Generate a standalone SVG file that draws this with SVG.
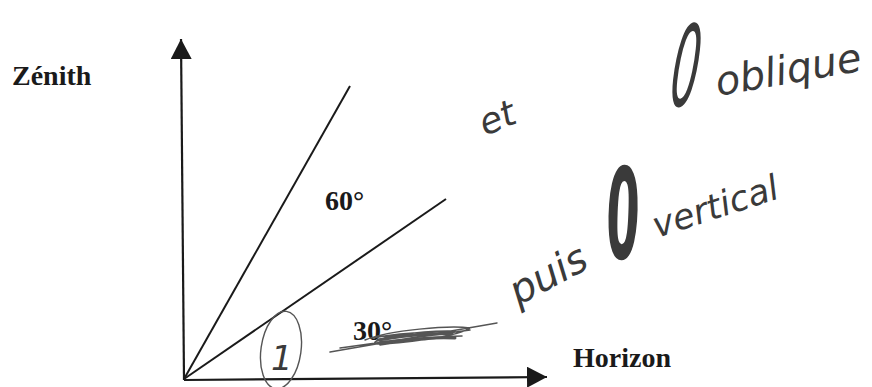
<svg xmlns="http://www.w3.org/2000/svg" width="872" height="387" viewBox="0 0 872 387">
<style>
.lbl{font-family:"Liberation Serif","Times New Roman",serif;font-weight:bold;font-size:28px;fill:#1a1a1a}
.hand{font-family:"DejaVu Sans","Liberation Sans",sans-serif;font-style:italic;fill:#3a3a3a}
.ax{stroke:#1a1a1a;stroke-width:2.2;fill:none}
.ray{stroke:#1a1a1a;stroke-width:2;fill:none}
.pen{stroke:#555;fill:none;stroke-linecap:round}
</style>
<defs>
<marker id="arr" markerWidth="20" markerHeight="21" refX="20" refY="10.5" orient="auto" markerUnits="userSpaceOnUse">
<path d="M0,0 L20,10.5 L0,21 Z" fill="#1a1a1a"/>
</marker>
</defs>
<rect width="872" height="387" fill="#fff"/>
<g id="connectors">
<line class="ax" x1="184" y1="380" x2="181" y2="39" marker-end="url(#arr)"/>
<line class="ax" x1="184" y1="380" x2="547" y2="377" marker-end="url(#arr)"/>
<line class="ray" x1="184" y1="379" x2="350" y2="86"/>
<line class="ray" x1="184" y1="379" x2="446" y2="199"/>
</g>
<g id="zenith"><text class="lbl" x="12" y="85" font-size="29">Zénith</text></g>
<g id="angle60"><text class="lbl" x="325" y="210">60°</text></g>
<g id="angle30"><text class="lbl" x="353" y="340">30°</text></g>
<g id="horizon"><text class="lbl" x="573" y="367">Horizon</text></g>
<g id="scribble">
<path class="pen" stroke-width="1.5" d="M330,352 L497,323 M340,348 L470,330 M365,340 C390,330 450,325 470,328 C460,336 400,344 375,344 C370,338 420,330 455,331 M372,338 C400,333 430,332 450,334 C440,340 400,342 380,341 M380,345 C410,340 440,336 462,336 M385,337 C415,334 445,333 455,332"/>
<path class="pen" stroke-width="3" d="M378,340 C405,335 435,333 452,334 M380,343 C410,339 440,337 455,338"/>
</g>
<g id="circled1">
<ellipse class="pen" stroke-width="1.4" cx="281" cy="350" rx="20" ry="39" transform="rotate(8 281 350)"/>
<text class="hand" x="271" y="370" font-size="34">1</text>
</g>
<g id="note1">
<text class="hand" font-size="36" transform="translate(485,136) rotate(-22)">et</text>
<text class="hand" font-size="100" transform="translate(668,107) rotate(-6) skewX(-12) scale(0.45,1.1)">0</text>
<text class="hand" font-size="40" transform="translate(718,96) rotate(-10)">oblique</text>
</g>
<g id="note2">
<text class="hand" font-size="40" transform="translate(518,306) rotate(-28)">puis</text>
<text class="hand" font-size="126" font-weight="bold" transform="translate(608,259) rotate(-2) scale(0.38,1)">0</text>
<text class="hand" font-size="35" transform="translate(657,238) rotate(-18)">vertical</text>
</g>
</svg>
